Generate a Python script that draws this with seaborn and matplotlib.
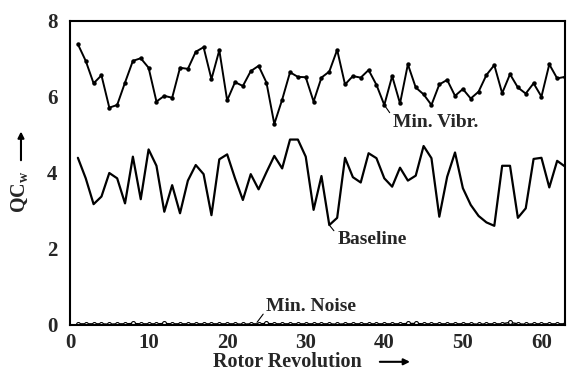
import numpy as np
import pandas as pd
import matplotlib
matplotlib.use("Agg")
import matplotlib.pyplot as plt
import seaborn as sns

# Rotor revolution index
revolution = list(range(1, 64))

# QC_w per revolution for the three control settings
min_vibr = [7.39, 6.95, 6.36, 6.57, 5.72, 5.79, 6.38, 6.95, 7.02, 6.77,
            5.88, 6.03, 5.98, 6.77, 6.74, 7.19, 7.31, 6.47, 7.23, 5.91,
            6.39, 6.29, 6.68, 6.82, 6.38, 5.29, 5.93, 6.65, 6.53, 6.52,
            5.88, 6.51, 6.67, 7.24, 6.33, 6.55, 6.51, 6.71, 6.32, 5.79,
            6.55, 5.83, 6.86, 6.25, 6.07, 5.79, 6.33, 6.45, 6.03, 6.21,
            5.96, 6.14, 6.58, 6.84, 6.10, 6.60, 6.25, 6.09, 6.36, 6.01,
            6.86, 6.49, 6.53]

baseline = [4.40, 3.86, 3.18, 3.38, 4.00, 3.86, 3.20, 4.43, 3.31, 4.62,
            4.19, 2.98, 3.68, 2.94, 3.80, 4.21, 3.97, 2.89, 4.36, 4.49,
            3.86, 3.29, 3.97, 3.57, 4.02, 4.45, 4.12, 4.88, 4.88, 4.43,
            3.03, 3.92, 2.63, 2.82, 4.40, 3.89, 3.75, 4.52, 4.39, 3.86,
            3.64, 4.14, 3.80, 3.93, 4.71, 4.39, 2.85, 3.90, 4.54, 3.60,
            3.16, 2.87, 2.70, 2.61, 4.19, 4.19, 2.82, 3.07, 4.37, 4.40,
            3.62, 4.32, 4.17]

min_noise = [0.03, 0.03, 0.03, 0.03, 0.02, 0.03, 0.03, 0.04, 0.03, 0.03,
             0.03, 0.04, 0.03, 0.03, 0.03, 0.03, 0.03, 0.03, 0.03, 0.03,
             0.03, 0.02, 0.03, 0.03, 0.04, 0.03, 0.03, 0.03, 0.03, 0.03,
             0.03, 0.03, 0.03, 0.02, 0.03, 0.03, 0.03, 0.03, 0.03, 0.03,
             0.03, 0.03, 0.04, 0.04, 0.03, 0.03, 0.03, 0.03, 0.03, 0.03,
             0.03, 0.02, 0.03, 0.03, 0.03, 0.07, 0.03, 0.02, 0.03, 0.03,
             0.03, 0.03, 0.03]

x_ticks = [0, 10, 20, 30, 40, 50, 60]
y_ticks = [0, 2, 4, 6, 8]

sns.set_style("white")
plt.rcParams["font.family"] = ["Liberation Serif", "DejaVu Serif"]
plt.rcParams["font.weight"] = "bold"
plt.rcParams["mathtext.fontset"] = "custom"
plt.rcParams["mathtext.bf"] = "Liberation Serif:bold"
plt.rcParams["mathtext.rm"] = "Liberation Serif:bold"

df = pd.DataFrame({
    "rev": revolution * 3,
    "qc": min_vibr + baseline + min_noise,
    "case": ["Min. Vibr."] * 63 + ["Baseline"] * 63 + ["Min. Noise"] * 63,
})

fig = plt.figure(figsize=(5.67, 3.73), dpi=100)
ax = fig.add_axes([0.1235, 0.1287, 0.873, 0.815])

sns.lineplot(data=df[df.case == "Min. Vibr."], x="rev", y="qc", ax=ax,
             color="black", lw=1.4, marker="o", markersize=3.2,
             markeredgewidth=0, legend=False)
sns.lineplot(data=df[df.case == "Baseline"], x="rev", y="qc", ax=ax,
             color="black", lw=1.6, legend=False)
sns.lineplot(data=df[df.case == "Min. Noise"], x="rev", y="qc", ax=ax,
             color="black", lw=1.0, marker="o", markersize=2.8,
             markerfacecolor="white", markeredgecolor="black",
             markeredgewidth=0.8, legend=False)

ax.set_xlim(0, 63)
ax.set_ylim(0, 8)
ax.set_xticks(x_ticks)
ax.set_yticks(y_ticks)
ax.tick_params(axis="both", labelsize=15, length=4, width=1.2,
               color="black", direction="out", pad=2)
ax.tick_params(axis="y", pad=5)
for lab in ax.get_xticklabels() + ax.get_yticklabels():
    lab.set_fontweight("bold")
for sp in ax.spines.values():
    sp.set_color("black")
    sp.set_linewidth(1.5)

ax.set_xlabel("")
ax.set_ylabel("")

# Axis titles with direction arrows
fig.text(0.506, 0.030, "Rotor Revolution", ha="center", va="center",
         fontsize=14.5, fontweight="bold")
fig.add_artist(matplotlib.patches.FancyArrowPatch(
    (0.665, 0.030), (0.728, 0.030), transform=fig.transFigure,
    arrowstyle="-|>", mutation_scale=9, color="black", lw=1.5))
fig.text(0.035, 0.485, r"QC$_{\mathbf{w}}$", ha="center", va="center",
         rotation=90, fontsize=14.5, fontweight="bold")
fig.add_artist(matplotlib.patches.FancyArrowPatch(
    (0.037, 0.563), (0.037, 0.655), transform=fig.transFigure,
    arrowstyle="-|>", mutation_scale=9, color="black", lw=1.5))

# Curve labels with leader lines
ax.annotate("Min. Vibr.", xy=(40, min_vibr[39]), xytext=(41.1, 5.33),
            fontsize=14, fontweight="bold", va="center", ha="left",
            arrowprops=dict(arrowstyle="-", color="black", lw=0.8,
                            shrinkA=0, shrinkB=0,
                            relpos=(0.0, 0.8)))
ax.annotate("Baseline", xy=(33, baseline[32]), xytext=(34.0, 2.24),
            fontsize=14, fontweight="bold", va="center", ha="left",
            arrowprops=dict(arrowstyle="-", color="black", lw=0.8,
                            shrinkA=0, shrinkB=0,
                            relpos=(0.0, 0.8)))
ax.annotate("Min. Noise", xy=(23.8, 0.07), xytext=(25.0, 0.49),
            fontsize=14, fontweight="bold", va="center", ha="left",
            arrowprops=dict(arrowstyle="-", color="black", lw=0.8,
                            shrinkA=0, shrinkB=0,
                            relpos=(0.0, 0.3)))

fig.savefig("out.png", dpi=100)
